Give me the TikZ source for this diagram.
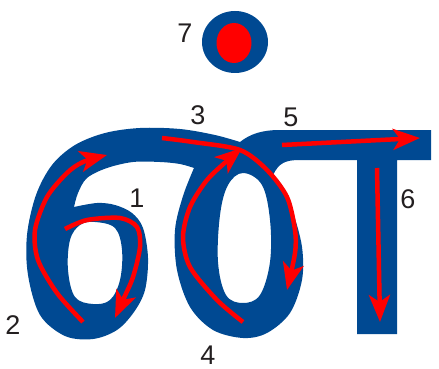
\documentclass[tikz,border=0pt]{standalone}
\usepackage{fontspec}
\setmainfont{Liberation Sans}
\usetikzlibrary{arrows.meta}
\definecolor{glyphblue}{RGB}{0,73,146}
\definecolor{strokered}{RGB}{255,0,0}
\definecolor{numgray}{RGB}{35,31,32}

\begin{document}
\begin{tikzpicture}[x=1pt, y=-1pt, >={Stealth[length=27pt, width=21pt, inset=7pt]}]
          \useasboundingbox (0,0) rectangle (439,369);

          % Letter body (with the two counters cut out)
          \fill[glyphblue, even odd rule]
            (240,142) -- plot[smooth, tension=0.55] coordinates {(240,142) (215,135) (180,129) (140,128) (105,133) (75,145) (52,165) (36,195) (27,235) (28,275) (40,315) (65,336) (93,339) (117,330) (134,312) (145,290) (148,258) (143,228) (132,213) (115,205) (97,203) (74,207)}
            -- plot[smooth, tension=0.55] coordinates {(74,207) (78,193) (87,178) (107,168) (133,162) (160,162) (180,164) (194,168)}
            -- plot[smooth, tension=0.55] coordinates {(194,168) (183,196) (175,230) (177,270) (190,307) (213,330) (243,338) (267,333) (290,313) (302,280) (302,247) (293,213) (281,189) (273,175)}
            .. controls (279,163) and (285,160) .. (300,160)
            -- (357,160) -- (357,334) -- (397,334) -- (397,160) -- (431,160) -- (431,130) -- (280,130)
            .. controls (262,130) and (250,134) .. (240,142) -- cycle
            plot[smooth cycle, tension=0.6] coordinates {(95,222) (115,228) (122,250) (120,280) (110,300) (93,304) (75,297) (68,270) (70,240) (80,225)}
            plot[smooth cycle, tension=0.6] coordinates {(243,173) (262,185) (270,220) (270,262) (260,295) (243,303) (226,295) (218,262) (220,215) (228,185)};

          % Dot on top
          \fill[glyphblue] (235,42) ellipse (33 and 31);
          \fill[strokered] (234,43) ellipse (17.5 and 20);

          % Stroke order arrows
          \draw[->, strokered, line width=4.5pt] plot[smooth] coordinates {(65,229) (87,220) (120,218) (137,227) (140,247) (133,277) (123,300) (115,318)};
          \draw[->, strokered, line width=4.5pt] plot[smooth] coordinates {(83,322) (57,293) (38,260) (35,230) (47,197) (67,173) (83,162) (107,155)};
          \draw[->, strokered, line width=4.5pt] plot[smooth] coordinates {(162,138) (193,142) (240,150) (267,170) (287,197) (295,230) (295,253) (287,290)};
          \draw[->, strokered, line width=4.5pt] plot[smooth] coordinates {(243,322) (217,300) (190,267) (183,237) (190,207) (207,180) (228,160) (242,148)};
          \draw[->, strokered, line width=4.5pt] (282,145) -- (420,138);
          \draw[->, strokered, line width=4.5pt] (377,168) -- (380,322);

          % Step numbers
          \node[numgray, font=\fontsize{27}{30}\selectfont] (n1) at (137,198) {1};
          \node[numgray, font=\fontsize{27}{30}\selectfont] (n2) at (13,325) {2};
          \node[numgray, font=\fontsize{27}{30}\selectfont] (n3) at (198,115) {3};
          \node[numgray, font=\fontsize{27}{30}\selectfont] (n4) at (208,355) {4};
          \node[numgray, font=\fontsize{27}{30}\selectfont] (n5) at (291,117) {5};
          \node[numgray, font=\fontsize{27}{30}\selectfont] (n6) at (408,199) {6};
          \node[numgray, font=\fontsize{27}{30}\selectfont] (n7) at (185,33) {7};
        \end{tikzpicture}
\end{document}
